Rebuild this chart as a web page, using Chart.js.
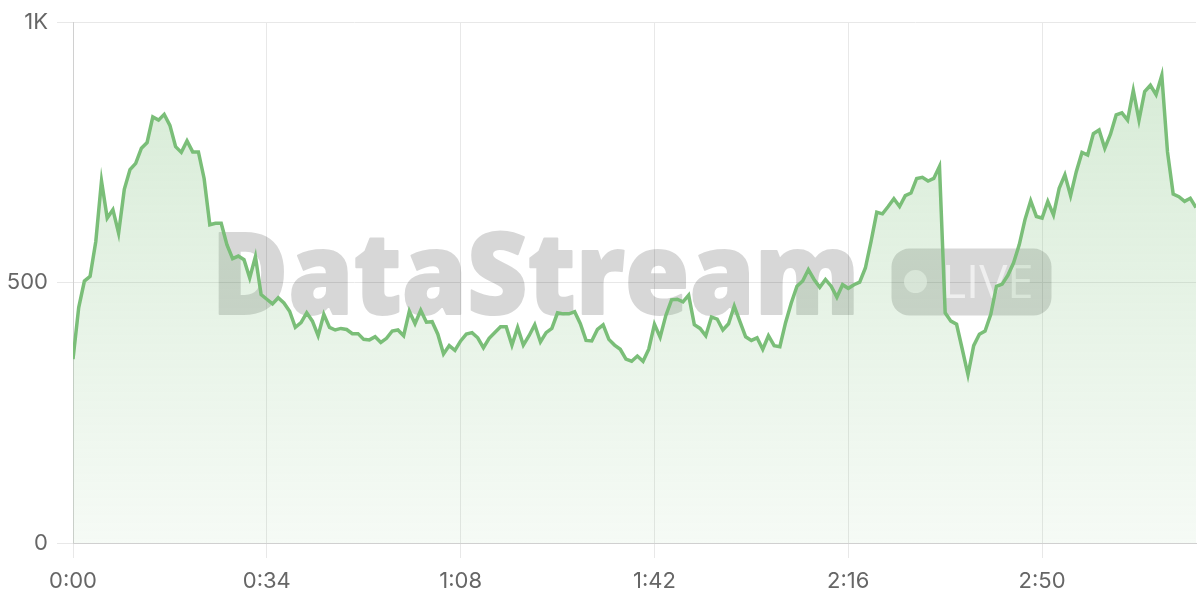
<!DOCTYPE html>
<html>
<head>
<meta charset="utf-8">
<script src="https://cdn.jsdelivr.net/npm/chart.js@4.4.1/dist/chart.umd.min.js"></script>
<style>
    html, body { margin: 0; padding: 0; background: #fff; }
    #wrap { width: 1200px; height: 600px; }
</style>
</head>
<body>
<div id="wrap"><canvas id="streamChart" width="1200" height="600"></canvas></div>
<script>
// Live viewers, one sample per second
const viewers = [
    353, 452, 503, 512, 579, 695, 624, 640, 595, 679,
    717, 729, 758, 769, 818, 812, 823, 802, 761, 750,
    772, 751, 751, 700, 611, 614, 614, 573, 546, 551,
    544, 509, 550, 477, 468, 459, 471, 461, 445, 414,
    423, 442, 426, 398, 439, 414, 409, 412, 410, 402,
    402, 391, 390, 396, 385, 393, 407, 409, 398, 445,
    421, 447, 424, 425, 401, 363, 379, 370, 388, 401,
    404, 394, 375, 393, 404, 415, 415, 380, 414, 380,
    398, 419, 386, 404, 412, 442, 440, 440, 444, 421,
    389, 388, 410, 419, 391, 380, 372, 353, 349, 359,
    349, 372, 420, 395, 437, 467, 468, 463, 476, 419,
    412, 398, 434, 430, 409, 421, 455, 425, 396, 389,
    394, 372, 398, 379, 377, 423, 461, 493, 503, 525,
    506, 491, 506, 493, 472, 496, 489, 496, 501, 528,
    579, 635, 632, 646, 661, 646, 667, 672, 700, 702,
    695, 700, 723, 442, 426, 420, 372, 323, 379, 401,
    407, 439, 493, 497, 514, 538, 573, 621, 657, 627,
    624, 656, 630, 681, 707, 667, 713, 750, 745, 786,
    793, 758, 785, 822, 826, 812, 869, 812, 867, 879,
    861, 898, 751, 670, 665, 656, 662, 644
];
const xTickValues = [0, 34, 68, 102, 136, 170];
const xTickLabels = ['0:00', '0:34', '1:08', '1:42', '2:16', '2:50'];
const yTickValues = [0, 500, 1000];
const yTickLabels = ['0', '500', '1K'];

const tickFont = { family: 'Inter, "DejaVu Sans", sans-serif', size: 22 };

// grey "DataStream LIVE" mark behind the line
const watermark = {
    id: 'watermark',
    beforeDatasetsDraw(chart) {
        const { ctx, chartArea: a } = chart;
        const cx = (a.left + a.right) / 2;
        const cy = (a.top + a.bottom) / 2;

        // draw solid on a scratch canvas, then lay it down translucent once
        const off = document.createElement('canvas');
        off.width = chart.width;
        off.height = chart.height;
        const o = off.getContext('2d');
        o.fillStyle = '#000';
        o.strokeStyle = '#000';
        o.lineWidth = 2;
        o.lineJoin = 'round';
        o.font = '800 114px "Open Sans"';
        o.textBaseline = 'alphabetic';
        const w = o.measureText('DataStream').width;
        o.save();
        o.translate(cx - 423, cy + 31);
        o.scale(648 / w, 1);
        o.fillText('DataStream', 0, 0);
        o.strokeText('DataStream', 0, 0);
        o.restore();
        o.beginPath();
        o.roundRect(cx + 257, cy - 34, 160, 67, 18);
        o.fill();

        ctx.save();
        ctx.globalAlpha = 0.155;
        ctx.drawImage(off, 0, 0);
        ctx.restore();

        ctx.save();
        ctx.fillStyle = 'rgba(255,255,255,0.6)';
        ctx.beginPath();
        ctx.arc(cx + 281, cy - 1, 11.5, 0, Math.PI * 2);
        ctx.fill();
        ctx.font = '500 46px "Open Sans"';
        const lw = ctx.measureText('LIVE').width;
        ctx.translate(cx + 307, cy + 15.5);
        ctx.scale(92 / lw, 1);
        ctx.fillText('LIVE', 0, 0);
        ctx.restore();
    }
};

new Chart(document.getElementById('streamChart'), {
    type: 'line',
    data: {
        datasets: [{
            label: 'Viewers',
            data: viewers.map((v, i) => ({ x: i, y: v })),
            borderColor: 'rgb(122, 190, 120)',
            borderWidth: 3.5,
            tension: 0,
            pointRadius: 0,
            fill: 'origin',
            backgroundColor: (c) => {
                const area = c.chart.chartArea;
                if (!area) return 'rgba(122,190,120,0.2)';
                const g = c.chart.ctx.createLinearGradient(0, area.top, 0, area.bottom);
                g.addColorStop(0, 'rgba(122,190,120,0.32)');
                g.addColorStop(1, 'rgba(122,190,120,0.07)');
                return g;
            }
        }]
    },
    options: {
        responsive: false,
        animation: false,
        layout: { padding: { top: 20, right: 4, left: 0, bottom: 0 } },
        plugins: {
            legend: { display: false },
            tooltip: { enabled: false }
        },
        scales: {
            x: {
                type: 'linear',
                min: 0,
                max: 197,
                afterBuildTicks: s => { s.ticks = xTickValues.map(v => ({ value: v })); },
                afterFit: s => { s.height = 57; },
                ticks: {
                    autoSkip: false,
                    maxRotation: 0,
                    padding: 10,
                    color: '#666',
                    font: tickFont,
                    callback: (v, i) => xTickLabels[i]
                },
                grid: { color: '#e8e8e8', tickLength: 15 },
                border: { color: '#d0d0d0' }
            },
            y: {
                min: 0,
                max: 1000,
                afterBuildTicks: s => { s.ticks = yTickValues.map(v => ({ value: v })); },
                afterFit: s => { s.width = 73; },
                ticks: {
                    padding: 9,
                    color: '#666',
                    font: tickFont,
                    callback: (v, i) => yTickLabels[i]
                },
                grid: { color: '#e8e8e8', tickLength: 16 },
                border: { color: '#d0d0d0' }
            }
        }
    },
    plugins: [watermark]
});
</script>
</body>
</html>
